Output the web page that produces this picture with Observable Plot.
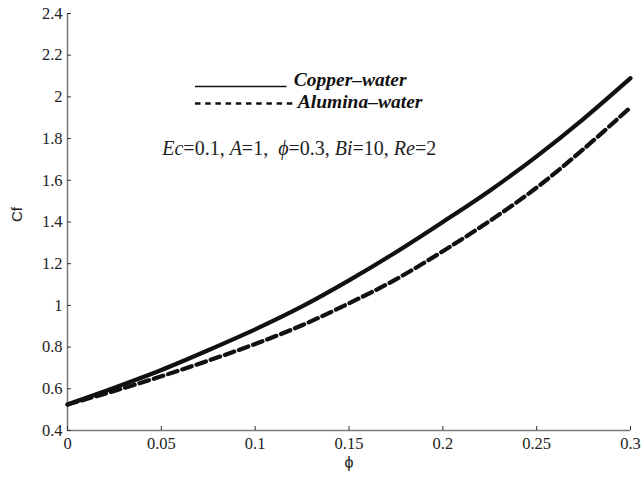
<!DOCTYPE html>
<html>
<head>
<meta charset="utf-8">
<script src="https://cdn.jsdelivr.net/npm/d3@7"></script>
<script src="https://cdn.jsdelivr.net/npm/@observablehq/plot@0.6"></script>
<style>
  html, body { margin: 0; padding: 0; background: #fff; }
</style>
</head>
<body>
<div id="chart"></div>
<script>
// ---- data ----
const phi = [0, 0.025, 0.05, 0.075, 0.1, 0.125, 0.15, 0.175, 0.2, 0.225, 0.25, 0.275, 0.3];
const copperWater = [0.525, 0.605, 0.69, 0.785, 0.885, 0.995, 1.12, 1.255, 1.40, 1.55, 1.715, 1.895, 2.09];
const aluminaWater = [0.525, 0.59, 0.66, 0.735, 0.815, 0.905, 1.01, 1.125, 1.26, 1.405, 1.565, 1.75, 1.95];
const seriesNames = ["Copper\u2013water", "Alumina\u2013water"];
const xTicks = [0, 0.05, 0.1, 0.15, 0.2, 0.25, 0.3];
const yTicks = [0.4, 0.6, 0.8, 1, 1.2, 1.4, 1.6, 1.8, 2, 2.2, 2.4];
const annotation = "Ec=0.1, A=1,  \u03D5=0.3, Bi=10, Re=2";

const copper = phi.map((x, i) => ({x, y: copperWater[i]}));
const alumina = phi.map((x, i) => ({x, y: aluminaWater[i]}));

const ink = "#111";
const plot = Plot.plot({
  width: 643,
  height: 477,
  marginLeft: 67,
  marginRight: 13,
  marginTop: 13,
  marginBottom: 47,
  x: {domain: [0, 0.3]},
  y: {domain: [0.4, 2.4]},
  style: {fontFamily: "'Liberation Serif', 'DejaVu Serif', serif", fontSize: "16px", background: "#fff", color: "#222"},
  marks: [
    // axis lines
    Plot.ruleX([0], {stroke: "#7a7a7a", strokeWidth: 1.5}),
    Plot.ruleY([0.4], {stroke: "#7a7a7a", strokeWidth: 1.5}),
    // inward ticks
    Plot.axisY(yTicks, {anchor: "left", tickSize: 4, dx: 4, text: null, label: null, stroke: "#333"}),
    Plot.axisX(xTicks, {anchor: "bottom", tickSize: 4, dy: -4, text: null, label: null, stroke: "#333"}),
    // tick labels
    Plot.axisY(yTicks, {anchor: "left", tickSize: 0, tickPadding: 5, tickFormat: d => String(d), label: null, fontSize: 16.5, fill: "#222"}),
    Plot.axisX(xTicks, {anchor: "bottom", tickSize: 0, tickPadding: 7, tickFormat: d => String(d), label: null, fontSize: 16.5, fill: "#222"}),
    // axis titles
    Plot.text(["Cf"], {frameAnchor: "left", rotate: -90, dx: -50, fontFamily: "'Liberation Sans', Arial, sans-serif", fontSize: 15, fill: "#222"}),
    Plot.text(["\u03D5"], {frameAnchor: "bottom", dy: 37, fontFamily: "'Liberation Sans', Arial, sans-serif", fontSize: 16, fill: "#222"}),
    // curves
    Plot.line(copper, {x: "x", y: "y", stroke: ink, strokeWidth: 4.2, curve: "catmull-rom"}),
    Plot.line(alumina, {x: "x", y: "y", stroke: ink, strokeWidth: 4.2, strokeDasharray: "10,5", curve: "catmull-rom"}),
    // legend samples
    Plot.ruleY([2.05], {x1: 0.0682, x2: 0.1170, stroke: ink, strokeWidth: 1.4}),
    Plot.ruleY([1.968], {x1: 0.0682, x2: 0.1215, stroke: ink, strokeWidth: 2.6, strokeDasharray: "5.5,4.7"}),
    // legend labels
    Plot.text(seriesNames, {
      x: (d, i) => i === 0 ? 0.1206 : 0.1227,
      y: (d, i) => i === 0 ? 2.082 : 1.977,
      text: d => d,
      textAnchor: "start",
      fontWeight: "bold",
      fontStyle: "italic",
      fontSize: 19.5,
      fill: ink
    }),
    // annotation
    Plot.text([annotation], {x: 0.0505, y: 1.75, text: d => d, textAnchor: "start", fontSize: 20, fill: "#222", className: "anno"})
  ]
});

// italicize symbol names in the annotation
const t = plot.querySelector(".anno text");
if (t) {
  const parts = [["Ec", true], ["=0.1, ", false], ["A", true], ["=1,  ", false], ["\u03D5", true], ["=0.3, ", false], ["Bi", true], ["=10, ", false], ["Re", true], ["=2", false]];
  t.textContent = "";
  for (const [s, it] of parts) {
    const ts = document.createElementNS("http://www.w3.org/2000/svg", "tspan");
    ts.textContent = s;
    if (it) ts.setAttribute("font-style", "italic");
    t.appendChild(ts);
  }
  t.setAttribute("style", "white-space: pre");
}
document.getElementById("chart").appendChild(plot);
</script>
</body>
</html>
